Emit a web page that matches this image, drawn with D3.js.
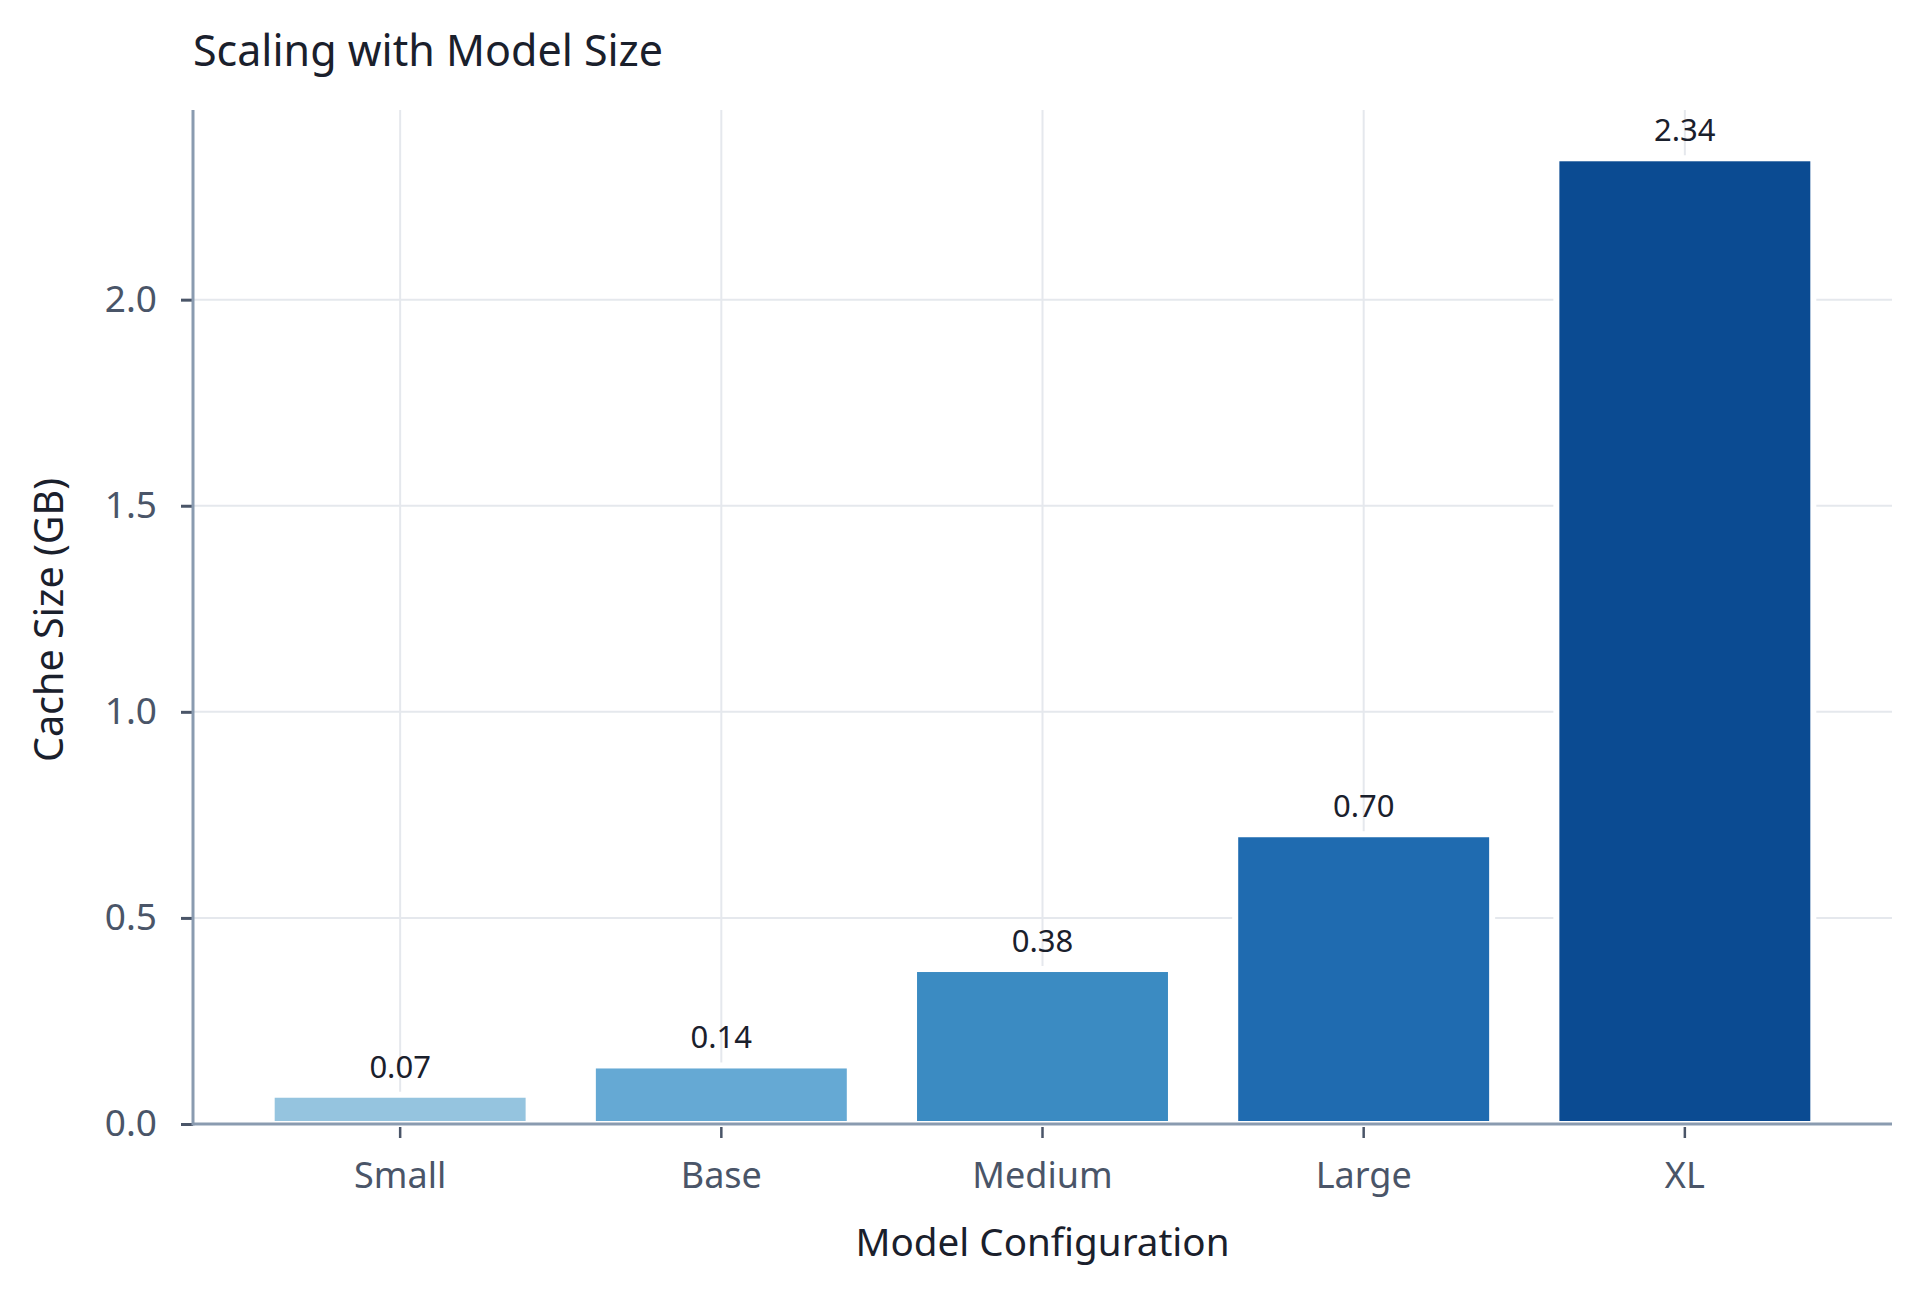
<!DOCTYPE html>
<html>
<head>
<meta charset="utf-8">
<script src="https://cdn.jsdelivr.net/npm/d3@7"></script>
<style>
  body { margin: 0; background: #fff; }
  text { font-family: "Noto Sans", sans-serif; }
</style>
</head>
<body>
<svg id="canvas" width="1920" height="1292"></svg>
<script>
// chart data
const models = ['Small', 'Base', 'Medium', 'Large', 'XL']
const cacheGB = [0.071, 0.142, 0.376, 0.703, 2.343]
const barColors = ['#95c4df', '#65a9d4', '#3b8bc2', '#1f6bb0', '#0b4b92']
const yTicks = [0, 0.5, 1.0, 1.5, 2.0]

let svg = d3.select('#canvas')

let plotLeft = 193, plotRight = 1892, plotTop = 110, plotBottom = 1124

let x = d3.scaleBand()
  .domain(models)
  .range([plotLeft, plotRight])
  .paddingInner(0.2)
  .paddingOuter(0.245)

let y = d3.scaleLinear()
  .domain([0, d3.max(cacheGB) * 1.05])
  .range([plotBottom, plotTop])

// grid
svg.append('g')
  .selectAll('line')
  .data(yTicks.filter(d => d > 0))
  .enter().append('line')
  .attr('x1', plotLeft).attr('x2', plotRight)
  .attr('y1', d => y(d)).attr('y2', d => y(d))
  .attr('stroke', '#e5e8ed').attr('stroke-width', 2)

svg.append('g')
  .selectAll('line')
  .data(models)
  .enter().append('line')
  .attr('x1', d => x(d) + x.bandwidth() / 2).attr('x2', d => x(d) + x.bandwidth() / 2)
  .attr('y1', plotTop).attr('y2', plotBottom)
  .attr('stroke', '#e5e8ed').attr('stroke-width', 2)

// bars
svg.append('g')
  .selectAll('rect')
  .data(models)
  .enter().append('rect')
  .attr('x', d => x(d))
  .attr('width', x.bandwidth())
  .attr('y', (d, i) => y(cacheGB[i]))
  .attr('height', (d, i) => plotBottom - y(cacheGB[i]))
  .attr('fill', (d, i) => barColors[i])
  .attr('stroke', '#fff')
  .attr('stroke-width', 6)

// value labels
svg.append('g')
  .selectAll('text')
  .data(models)
  .enter().append('text')
  .attr('x', d => x(d) + x.bandwidth() / 2)
  .attr('y', (d, i) => y(cacheGB[i]) - 17)
  .attr('text-anchor', 'middle')
  .attr('font-size', 31)
  .attr('fill', '#1a202c')
  .text((d, i) => d3.format('.2f')(cacheGB[i]))

// axes
let xAxis = svg.append('g')
  .attr('transform', `translate(0,${plotBottom})`)
  .call(d3.axisBottom(x).tickSize(14).tickPadding(24))
xAxis.select('.domain').remove()
xAxis.selectAll('.tick line').attr('stroke', '#4a5568').attr('stroke-width', 2.5).attr('y1', 3)
xAxis.selectAll('.tick text')
  .attr('font-size', 36).attr('fill', '#4a5568')
  .style('font-family', '"Noto Sans", sans-serif')

let yAxis = svg.append('g')
  .attr('transform', `translate(${plotLeft},0)`)
  .call(d3.axisLeft(y).tickValues(yTicks).tickFormat(d3.format('.1f')).tickSize(12).tickPadding(24))
yAxis.select('.domain').remove()
yAxis.selectAll('.tick line').attr('stroke', '#4a5568').attr('stroke-width', 3)
yAxis.selectAll('.tick text')
  .attr('font-size', 37).attr('fill', '#4a5568')
  .style('font-family', '"Noto Sans", sans-serif')

svg.append('line')
  .attr('x1', plotLeft).attr('x2', plotLeft).attr('y1', plotTop).attr('y2', plotBottom + 1.5)
  .attr('stroke', '#8a9bb0').attr('stroke-width', 3)
svg.append('line')
  .attr('x1', plotLeft).attr('x2', plotRight).attr('y1', plotBottom).attr('y2', plotBottom)
  .attr('stroke', '#8a9bb0').attr('stroke-width', 3)

// titles
svg.append('text')
  .attr('x', plotLeft).attr('y', 66)
  .attr('font-size', 43).attr('fill', '#1a202c')
  .text('Scaling with Model Size')

svg.append('text')
  .attr('x', (plotLeft + plotRight) / 2).attr('y', 1256)
  .attr('text-anchor', 'middle')
  .attr('font-size', 38.6).attr('fill', '#1a202c')
  .text('Model Configuration')

svg.append('text')
  .attr('transform', 'translate(63,620) rotate(-90)')
  .attr('text-anchor', 'middle')
  .attr('font-size', 39.5).attr('fill', '#1a202c')
  .text('Cache Size (GB)')
</script>
</body>
</html>
